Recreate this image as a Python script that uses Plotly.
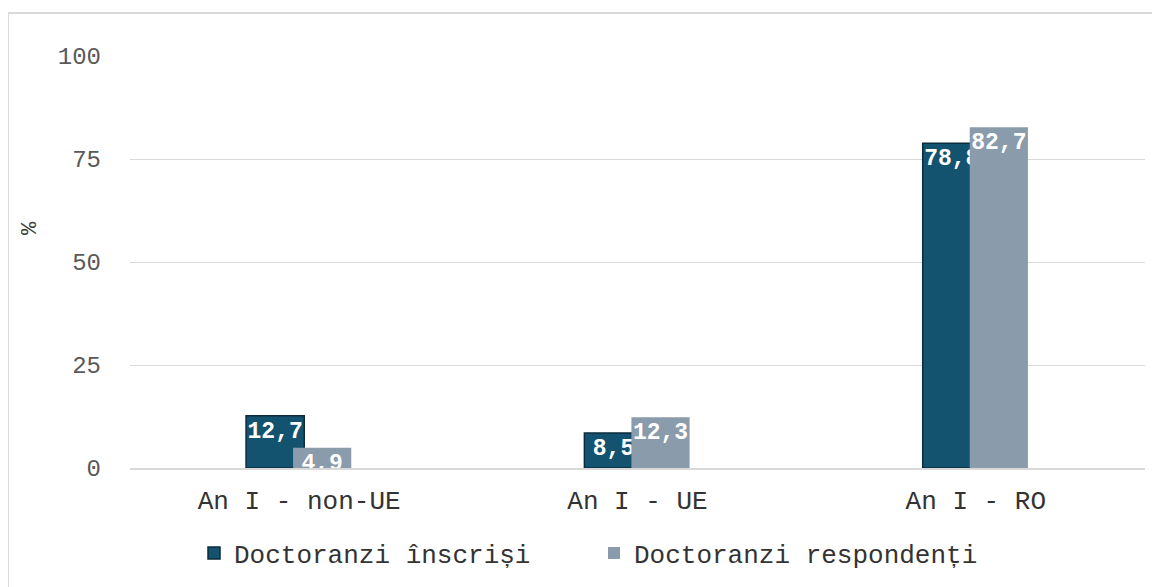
import plotly.graph_objects as go

categories = ["An I - non-UE", "An I - UE", "An I - RO"]
series_names = ["Doctoranzi înscriși", "Doctoranzi respondenți"]
enrolled = [12.7, 8.5, 78.8]
respondents = [4.9, 12.3, 82.7]
y_ticks = [0, 25, 50, 75, 100]

FONT = "Liberation Mono, Courier New, monospace"
DARK = "#14536f"
LIGHT = "#8a9bab"

# the page body adds an 8px margin; work in figure coordinates
OFF = 8
W, H = 1160, 587
L = 130 - OFF
T = 56 - OFF
B = H - (468 - OFF)
R = W - (1145 - OFF)
pw, ph = W - L - R, H - T - B


def px_x(sx):
    return (sx - OFF - L) / pw


def px_y(sy):
    return (H - B - (sy - OFF)) / ph


def fmt(v):
    return f"{v:.1f}".replace(".", ",")


label_font = dict(family=FONT, size=23, color="white", weight="bold")

fig = go.Figure()
fig.add_trace(go.Bar(
    name=series_names[0], x=categories, y=enrolled,
    offset=-0.157, width=0.172,
    marker=dict(color=DARK, line=dict(color="#0c2b3d", width=1.5)),
    text=[fmt(v) for v in enrolled], textposition="inside", textangle=0,
    insidetextanchor="end", constraintext="none", cliponaxis=False,
    textfont=label_font,
))
fig.add_trace(go.Bar(
    name=series_names[1], x=categories, y=respondents,
    offset=-0.018, width=0.172,
    marker=dict(color=LIGHT, line=dict(color=LIGHT, width=0)),
    text=[fmt(v) for v in respondents], textposition="inside", textangle=0,
    insidetextanchor="end", constraintext="none", cliponaxis=False,
    textfont=label_font,
))

# outer chart border (top and left visible)
x0 = px_x(8)
x1 = px_x(W + 20)
y_top = px_y(13)
y_bot = px_y(H + 20)
fig.add_shape(type="line", xref="paper", yref="paper", x0=x0, x1=x1, y0=y_top, y1=y_top,
              line=dict(color="#d9d9d9", width=2))
fig.add_shape(type="line", xref="paper", yref="paper", x0=x0, x1=x0, y0=y_top, y1=y_bot,
              line=dict(color="#d9d9d9", width=2))

fig.add_annotation(text="%", xref="paper", yref="paper",
                   x=px_x(30), y=px_y(228), xanchor="center", yanchor="middle",
                   showarrow=False, textangle=-90,
                   font=dict(family=FONT, size=22, color="#404040"))

fig.update_layout(
    width=W, height=H,
    margin=dict(l=L, r=R, t=T, b=B, pad=0),
    barmode="overlay",
    plot_bgcolor="white", paper_bgcolor="white",
    font=dict(family=FONT, color="#262626"),
    showlegend=True,
    legend=dict(orientation="h", x=px_x(194), xanchor="left",
                y=px_y(553), yanchor="middle",
                entrywidth=355, entrywidthmode="pixels", itemwidth=30,
                font=dict(family=FONT, size=26, color="#333333"),
                traceorder="normal"),
    xaxis=dict(showgrid=False, showline=True, linecolor="#d9d9d9", linewidth=1.5,
               ticks="", tickfont=dict(family=FONT, size=26, color="#333333"),
               ticklabelstandoff=8),
    yaxis=dict(range=[0, 100], tickvals=y_ticks, showgrid=True, gridcolor="#d9d9d9",
               gridwidth=1, zeroline=False, showline=False, ticks="",
               tickfont=dict(family=FONT, size=24, color="#595959"),
               ticklabelstandoff=28),
)

fig.write_html("out.html")
